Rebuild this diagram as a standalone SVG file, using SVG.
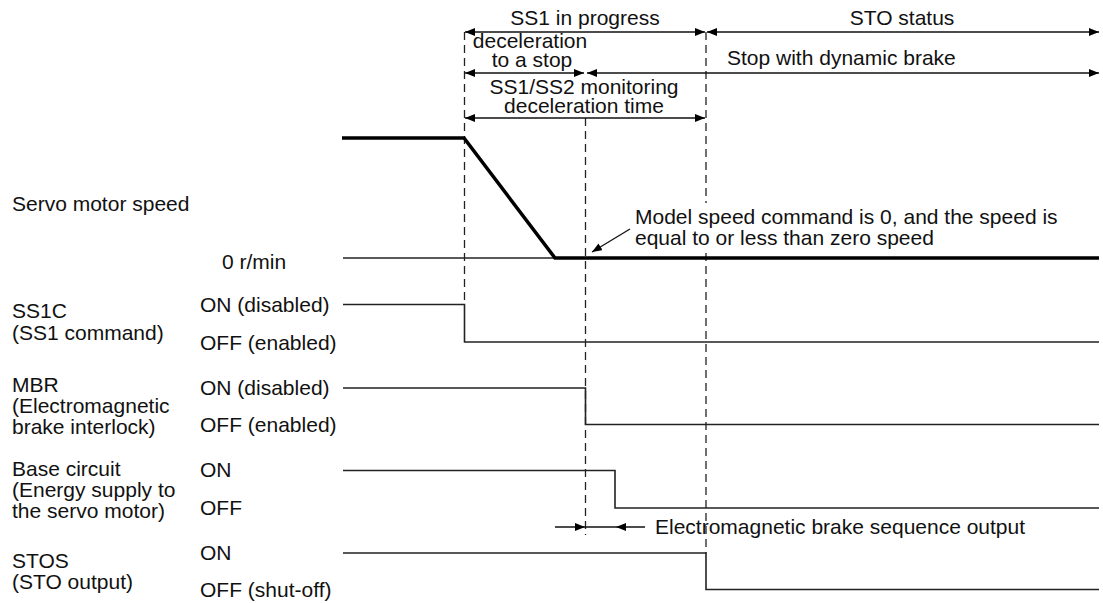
<svg xmlns="http://www.w3.org/2000/svg" width="1103" height="603" viewBox="0 0 1103 603">
<style>
text{font-family:"Liberation Sans",Arial,sans-serif;font-size:21px;fill:#111}
.mid{text-anchor:middle}
.sig{fill:none;stroke:#222;stroke-width:1.6}
.thick{fill:none;stroke:#000;stroke-width:3.5;stroke-linejoin:miter}
.dash{fill:none;stroke:#222;stroke-width:1.3;stroke-dasharray:8 5}
.dim{fill:none;stroke:#111;stroke-width:1.3}
.ah{fill:#000}
</style>
<defs>
<marker id="arr" viewBox="0 0 10 8" refX="10" refY="4" markerWidth="10" markerHeight="8" markerUnits="userSpaceOnUse" orient="auto-start-reverse">
<path d="M0,0 L10,4 L0,8 z" fill="#000"/>
</marker>
</defs>

<g id="timing-dashes">
<line class="dash" x1="464.5" y1="32" x2="464.5" y2="304"/>
<line class="dash" x1="585.5" y1="118" x2="585.5" y2="535"/>
<line class="dash" x1="706" y1="32" x2="706" y2="203"/>
<line class="dash" x1="706" y1="253" x2="706" y2="553"/>
</g>

<g id="speed">
<text x="12" y="211">Servo motor speed</text>
<text x="222" y="269">0 r/min</text>
<line class="sig" x1="343" y1="258" x2="555" y2="258"/>
<polyline class="thick" points="342,138 464,138 555,258 1099,258"/>
</g>

<g id="ss1c">
<text x="12" y="318">SS1C</text>
<text x="12" y="340">(SS1 command)</text>
<text x="200" y="312">ON (disabled)</text>
<text x="200" y="350">OFF (enabled)</text>
<polyline class="sig" points="343,304.5 464.5,304.5 464.5,342 1099,342"/>
</g>

<g id="mbr">
<text x="12" y="392">MBR</text>
<text x="12" y="413">(Electromagnetic</text>
<text x="12" y="434">brake interlock)</text>
<text x="200" y="395">ON (disabled)</text>
<text x="200" y="432">OFF (enabled)</text>
<polyline class="sig" points="343,388 585.5,388 585.5,424.5 1099,424.5"/>
</g>

<g id="base">
<text x="12" y="476">Base circuit</text>
<text x="12" y="497">(Energy supply to</text>
<text x="12" y="518">the servo motor)</text>
<text x="200" y="477">ON</text>
<text x="200" y="515">OFF</text>
<polyline class="sig" points="343,470.5 615,470.5 615,508 1099,508"/>
</g>

<g id="stos">
<text x="12" y="568">STOS</text>
<text x="12" y="589">(STO output)</text>
<text x="200" y="560">ON</text>
<text x="200" y="597">OFF (shut-off)</text>
<polyline class="sig" points="343,553 706,553 706,589.5 1099,589.5"/>
</g>

<g id="connectors">
<line class="dim" x1="465" y1="32" x2="705" y2="32" marker-start="url(#arr)" marker-end="url(#arr)"/>
<line class="dim" x1="707" y1="32" x2="1099" y2="32" marker-start="url(#arr)" marker-end="url(#arr)"/>
<line class="dim" x1="465" y1="73" x2="584" y2="73" marker-start="url(#arr)" marker-end="url(#arr)"/>
<line class="dim" x1="587" y1="73" x2="1099" y2="73" marker-start="url(#arr)"/>
<path class="ah" d="M1099,73 l-10,-4 v8 z"/>
<line class="dim" x1="465" y1="118" x2="705" y2="118" marker-start="url(#arr)" marker-end="url(#arr)"/>
<line class="dim" x1="630" y1="229" x2="592" y2="252" marker-end="url(#arr)"/>
<line class="dim" x1="555" y1="527" x2="645" y2="527"/>
<path class="ah" d="M585,527 l-10,-4 v8 z"/>
<path class="ah" d="M616,527 l10,-4 v8 z"/>
</g>

<g id="labels">
<text class="mid" x="585" y="25">SS1 in progress</text>
<text class="mid" x="902" y="25">STO status</text>
<text class="mid" x="530" y="48">deceleration</text>
<text class="mid" x="532" y="67">to a stop</text>
<text x="727" y="65">Stop with dynamic brake</text>
<text class="mid" x="584" y="94">SS1/SS2 monitoring</text>
<text class="mid" x="584" y="113">deceleration time</text>
<text x="635" y="224">Model speed command is 0, and the speed is</text>
<text x="635" y="245">equal to or less than zero speed</text>
<text x="655" y="534">Electromagnetic brake sequence output</text>
</g>
</svg>
